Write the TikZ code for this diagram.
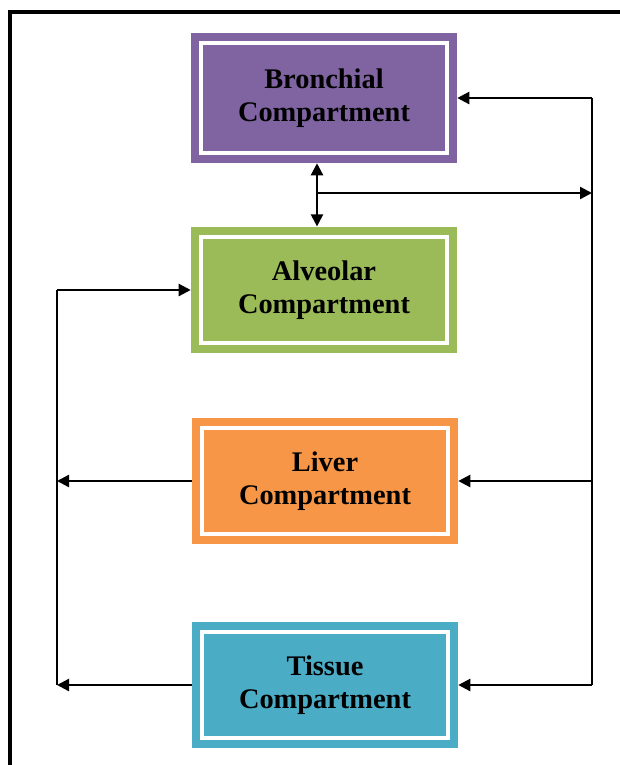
\documentclass[tikz,border=0pt]{standalone}
\usepackage{fontspec}
\setmainfont{Liberation Serif}
\usetikzlibrary{arrows.meta,calc}
\definecolor{bronchialc}{HTML}{8064A2}
\definecolor{alveolarc}{HTML}{9BBB59}
\definecolor{liverc}{HTML}{F79646}
\definecolor{tissuec}{HTML}{4BACC6}
\tikzset{
  compbox/.style={draw=none, minimum width=199.5pt, minimum height=95pt,
    align=center, inner sep=0pt,
    font=\fontsize{21.3}{24.5}\selectfont\bfseries},
  inframe/.style={draw=white, line width=3pt},
  link/.style={line width=1.7pt, draw=black},
  tip/.style={-{Triangle[length=9pt,width=9pt]}},
  dtip/.style={{Triangle[length=9pt,width=9pt]}-{Triangle[length=9pt,width=9pt]}},
}
\begin{document}
\begin{tikzpicture}[x=0.75pt, y=-0.75pt]
  \clip (0,0) rectangle (620,765);
  \fill[white] (0,0) rectangle (620,765);
  % enclosing frame, open to the right and bottom
  \draw[line width=2.4pt] (10,780) -- (10,12) -- (640,12);

  % compartments
  \node[compbox, fill=bronchialc, minimum height=97.5pt] (br) at (324,98) {Bronchial\\Compartment};
  \node[compbox, fill=alveolarc] (al) at (324,290) {Alveolar\\Compartment};
  \node[compbox, fill=liverc] (li) at (325,481) {Liver\\Compartment};
  \node[compbox, fill=tissuec] (ti) at (325,685) {Tissue\\Compartment};

  % white inner borders
  \foreach \n in {br,al,li,ti}{
    \draw[inframe] ($(\n.north west)+(10.5,10.5)$) rectangle ($(\n.south east)+(-10.5,-10.5)$);
  }

  % junction points of the return lines
  \coordinate (rt) at (592,98);
  \coordinate (rb) at (592,685);
  \coordinate (lt) at (57,290);
  \coordinate (lb) at (57,685);
  \coordinate (jn) at (317,193);

  % exchange between bronchial and alveolar compartments
  \draw[link, dtip] ($(br.south)+(-7,0)$) -- ($(al.north)+(-7,0)$);
  \draw[link, tip] (jn) -- (jn -| rt);

  % right-hand return line
  \draw[link] (rt) -- (rb);
  \draw[link, tip] (rt) -- (br.east);
  \draw[link, tip] (li.east -| rt) -- (li.east);
  \draw[link, tip] (rb) -- (ti.east);

  % left-hand return line
  \draw[link] (lt) -- (lb);
  \draw[link, tip] (lt) -- (al.west);
  \draw[link, tip] (li.west) -- (li.west -| lt);
  \draw[link, tip] (ti.west) -- (lb);
\end{tikzpicture}
\end{document}
